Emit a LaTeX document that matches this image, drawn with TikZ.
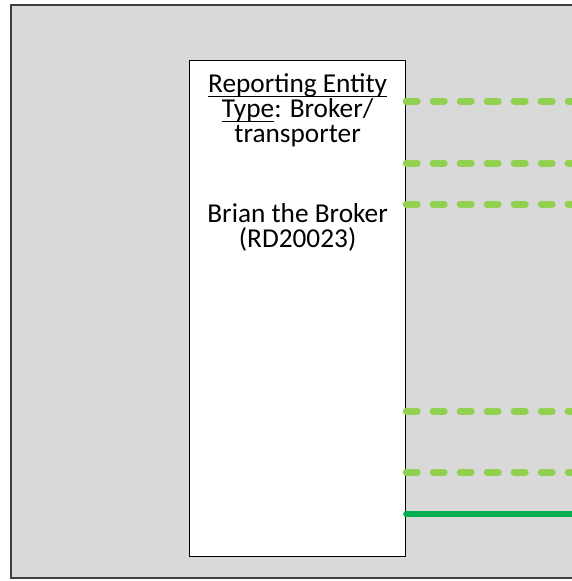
\documentclass[tikz,border=0pt]{standalone}
\usepackage{fontspec}
\setmainfont{Carlito}
\usepackage{tikz}
\usetikzlibrary{positioning}
\usepackage{xcolor}

\definecolor{panelgray}{HTML}{D9D9D9}
\definecolor{framegray}{HTML}{3F3F3F}
\definecolor{linklight}{HTML}{92D050}
\definecolor{linkdark}{HTML}{00B050}

% underline that adds no depth to the line
\newcommand\undl[1]{\leavevmode\setbox0\hbox{#1}\rlap{\rule[-4.5pt]{\wd0}{1.3pt}}\box0}

\begin{document}
\begin{tikzpicture}[x=1pt, y=-1pt,
    entitybox/.style={draw=black, fill=white, line width=1.2pt, minimum width=216pt, minimum height=496pt, inner sep=0pt},
    dashlink/.style={linklight, line width=7pt, line cap=round, dash pattern=on 11pt off 16pt},
    solidlink/.style={linkdark, line width=6pt, line cap=round}]
  \useasboundingbox (0,0) rectangle (572,581);
  \clip (0,0) rectangle (572,581);
  % Background panel
  \draw[framegray, fill=panelgray, line width=2pt] (11,5) rectangle (600,578);

  % Nodes
  \node[entitybox, anchor=north west] (entity) at (189,60) {};
  \node[below=10.5pt of entity.north, align=center, font=\fontsize{27.3}{25}\selectfont] (label)
    {\undl{Reporting Entity}\\ \undl{Type}: Broker/\\ transporter\\[55pt]
     Brian the Broker\\ (RD20023)};

  % Link ends at the right edge
  \coordinate (r1) at (572,101);
  \coordinate (r2) at (572,163);
  \coordinate (r3) at (572,204);
  \coordinate (r4) at (572,411);
  \coordinate (r5) at (572,472);
  \coordinate (r6) at (572,514);

  \draw[dashlink] (r1 -| entity.east) -- (r1);
  \draw[dashlink] (r2 -| entity.east) -- (r2);
  \draw[dashlink] (r3 -| entity.east) -- (r3);
  \draw[dashlink] (r4 -| entity.east) -- (r4);
  \draw[dashlink] (r5 -| entity.east) -- (r5);
  \draw[solidlink] (r6 -| entity.east) -- (r6);
\end{tikzpicture}
\end{document}
